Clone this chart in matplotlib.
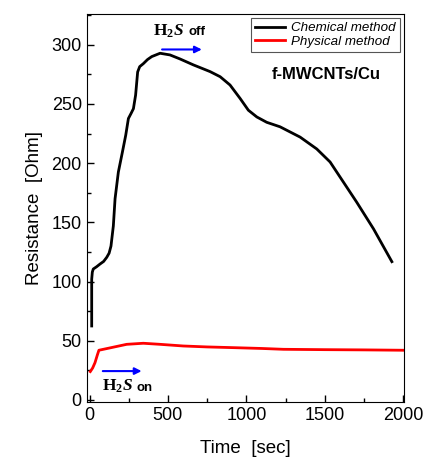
import matplotlib
matplotlib.use("Agg")
import matplotlib.pyplot as plt
from matplotlib.ticker import MultipleLocator

plt.rcParams['font.family'] = ['Liberation Sans', 'DejaVu Sans']
plt.rcParams['mathtext.fontset'] = 'custom'
plt.rcParams['mathtext.rm'] = 'Liberation Serif'
plt.rcParams['mathtext.bf'] = 'Liberation Serif:bold'
plt.rcParams['mathtext.it'] = 'Liberation Serif:italic'
plt.rcParams['mathtext.bfit'] = 'Liberation Serif:bold:italic'

# Chemical method data
chem_t = [14, 14, 18, 24, 45, 67, 90, 110, 125, 137, 152, 163, 184, 210, 231, 248,
          265, 280, 294, 307, 320, 343, 370, 397, 450, 513, 577, 662, 769, 833,
          896, 960, 1013, 1067, 1130, 1215, 1343, 1449, 1534, 1619, 1704, 1811, 1928]
chem_r = [62.5, 102, 108, 110.6, 112.5, 114.8, 117, 120.5, 124, 130, 147, 170, 192.5,
          209.5, 223.6, 237.7, 242, 246, 257.5, 277, 281.5, 284, 287.5, 290, 292.8,
          291.4, 288, 283, 277.3, 273, 266, 254.7, 244.7, 239, 234.5, 230.7, 222,
          212, 201, 184, 167, 144.5, 116.8]

# Physical method data
phys_t = [5, 20, 35, 50, 60, 131, 237, 343, 450, 598, 750, 917, 1100, 1236, 1500, 1750, 2000]
phys_r = [24, 27, 31.5, 38, 42, 44, 47, 47.9, 47, 45.6, 44.8, 44.2, 43.5, 42.8, 42.5, 42.3, 42]

fig = plt.figure(figsize=(4.27, 4.65), dpi=100)
ax = fig.add_axes([0.203, 0.136, 0.743, 0.834])

ax.plot(chem_t, chem_r, color='black', lw=2, label='Chemical method')
ax.plot(phys_t, phys_r, color='red', lw=2, label='Physical method')

ax.set_xlim(-18, 2005)
ax.set_ylim(-1.5, 326)
ax.xaxis.set_major_locator(MultipleLocator(500))
ax.xaxis.set_minor_locator(MultipleLocator(250))
ax.yaxis.set_major_locator(MultipleLocator(50))
ax.yaxis.set_minor_locator(MultipleLocator(25))
ax.tick_params(which='both', direction='in', labelsize=13, width=1)
ax.tick_params(which='major', length=5)
ax.tick_params(which='minor', length=3)

ax.set_xlabel('Time  [sec]', fontsize=13.5, labelpad=12)
ax.set_ylabel('Resistance  [Ohm]', fontsize=13.5, labelpad=6)

leg = ax.legend(loc='upper right', prop={'style': 'italic', 'size': 9.6},
                handlelength=2.3, handletextpad=0.45, labelspacing=0.1,
                borderpad=0.3, borderaxespad=0.3, fancybox=False, framealpha=1)
leg.get_frame().set_edgecolor('#555555')
leg.get_frame().set_linewidth(0.8)

ax.text(1512, 275, 'f-MWCNTs/Cu', fontsize=12, fontweight='bold',
        ha='center', va='center')

# H2S off annotation
ax.text(407, 308, r'$\mathbf{H}_\mathbf{2}\mathbfit{S}$', fontsize=12.5, ha='left', va='baseline')
ax.text(630, 308, 'off', fontsize=9.5, fontweight='bold', ha='left', va='baseline')
ax.annotate('', xy=(734, 296), xytext=(445, 296),
            arrowprops=dict(arrowstyle='-|>', color='blue', lw=1.5, mutation_scale=10))

# H2S on annotation
ax.text(78, 8, r'$\mathbf{H}_\mathbf{2}\mathbfit{S}$', fontsize=12.5, ha='left', va='baseline')
ax.text(302, 8, 'on', fontsize=9.5, fontweight='bold', ha='left', va='baseline')
ax.annotate('', xy=(350, 24.4), xytext=(67, 24.4),
            arrowprops=dict(arrowstyle='-|>', color='blue', lw=1.5, mutation_scale=10))

fig.savefig('out.png', dpi=100)
